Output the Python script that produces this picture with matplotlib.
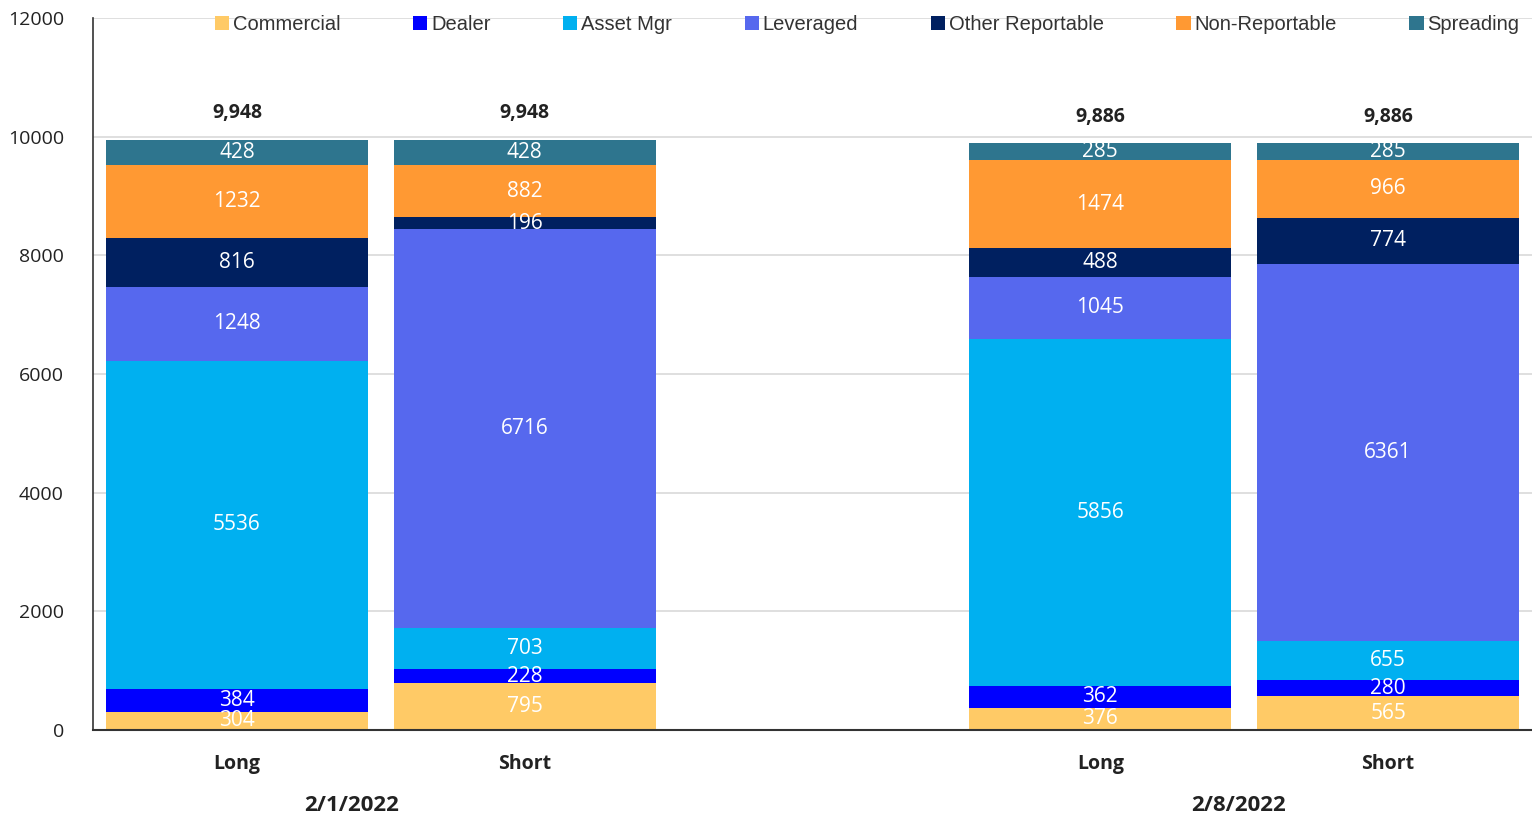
import matplotlib
matplotlib.use('Agg')
import matplotlib.pyplot as plt
import matplotlib.transforms as mtransforms

# data
bar_labels = ['Long', 'Short', 'Long', 'Short']
bar_pos = [0, 1, 3, 4]
groups = ['2/1/2022', '2/8/2022']
group_pos = [0.4, 3.48]

series = ['Commercial', 'Dealer', 'Asset Mgr', 'Leveraged',
          'Other Reportable', 'Non-Reportable', 'Spreading']
commercial = [304, 795, 376, 565]
dealer = [384, 228, 362, 280]
asset_mgr = [5536, 703, 5856, 655]
leveraged = [1248, 6716, 1045, 6361]
other_rep = [816, 196, 488, 774]
non_rep = [1232, 882, 1474, 966]
spreading = [428, 428, 285, 285]
totals = ['9,948', '9,948', '9,886', '9,886']

colors = ['#FFCA66', '#0000FF', '#00B0F0', '#5668EE',
          '#002060', '#FF9933', '#2E758E']

label_font = 'Open Sans'
legend_font = 'Liberation Sans'

fig = plt.figure(figsize=(15.32, 8.18), dpi=100)
ax = fig.add_axes([0.0607, 0.1076, 0.9393, 0.8704])

bottom = [0, 0, 0, 0]
all_vals = [commercial, dealer, asset_mgr, leveraged, other_rep, non_rep, spreading]
for name, vals, c in zip(series, all_vals, colors):
    ax.bar(bar_pos, vals, width=0.91, bottom=bottom, color=c, label=name, zorder=2)
    for x, v, b in zip(bar_pos, vals, bottom):
        ax.text(x, b + v / 2, str(v), ha='center', va='center', color='white',
                fontsize=15, family=label_font, zorder=3)
    bottom = [b + v for b, v in zip(bottom, vals)]

# totals above the bars
for x, top, t in zip(bar_pos, bottom, totals):
    ax.annotate(t, (x, top), xytext=(0, 19), textcoords='offset points',
                ha='center', va='center', fontsize=14, fontweight='bold',
                family=label_font, color='#222222')

ax.set_xlim(-0.5, 4.5)
ax.set_ylim(0, 12000)
ax.set_yticks(range(0, 12001, 2000))
ax.tick_params(axis='y', length=0, labelsize=14, pad=21)
ax.set_xticks(bar_pos)
ax.set_xticklabels(bar_labels, fontsize=14, fontweight='bold', family=label_font, color='#222222')
ax.tick_params(axis='x', length=0, pad=17)
for lab in ax.get_yticklabels():
    lab.set_family(label_font)
    lab.set_color('#222222')

ax.yaxis.grid(True, color='#D9D9D9', linewidth=1.2, zorder=0)
ax.set_axisbelow(True)
for s in ['top', 'right']:
    ax.spines[s].set_visible(False)
ax.spines['left'].set_color('#333333')
ax.spines['bottom'].set_color('#333333')
ax.spines['bottom'].set_linewidth(1.5)
ax.spines['left'].set_linewidth(1.2)

trans = mtransforms.blended_transform_factory(ax.transData, ax.transAxes)
for g, gx in zip(groups, group_pos):
    ax.text(gx, -0.106, g, transform=trans, ha='center', va='center',
            fontsize=16, fontweight='bold', family=label_font, color='#222222')

leg = ax.legend(loc='upper center', bbox_to_anchor=(0.538, 1.03), ncol=7, frameon=False,
                handlelength=0.7, handleheight=0.7, handletextpad=0.2,
                columnspacing=3.6, prop={'family': legend_font, 'size': 14.5})
for t in leg.get_texts():
    t.set_color('#333333')

fig.savefig('out.png', dpi=100)
